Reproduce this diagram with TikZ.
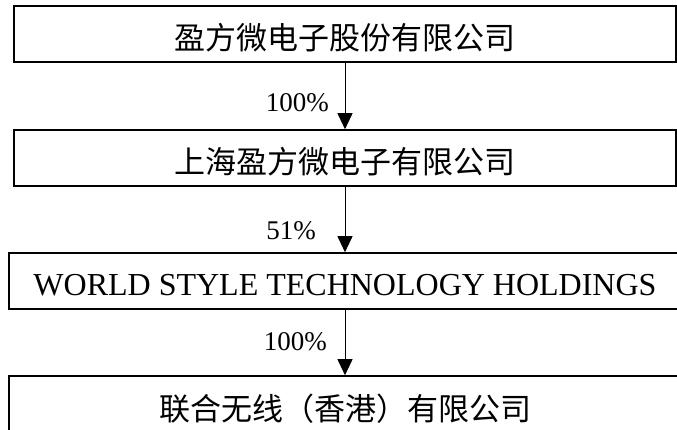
\documentclass[tikz,border=0pt]{standalone}
\usepackage{fontspec}
\setmainfont{Liberation Serif}
\newfontfamily\cjk{Noto Sans CJK SC}
\usetikzlibrary{arrows.meta}
\tikzset{firm/.style={draw=black,line width=1.6pt,minimum height=56pt,inner sep=0pt,text height=32pt,text depth=0pt,font=\fontsize{31}{36}\selectfont}}
\tikzset{share/.style={font=\fontsize{27}{32}\selectfont,anchor=east,inner sep=0pt}}
\tikzset{own/.style={line width=0.9pt,-{Triangle[width=15pt,length=16pt]}}}

\begin{document}
\begin{tikzpicture}[x=1pt,y=-1pt]
\useasboundingbox (0,0) rectangle (677,430);
\clip (0,0) rectangle (677,430);
\node[firm,minimum width=662pt] (F1) at (345,34) {\cjk 盈方微电子股份有限公司};
\node[firm,minimum width=662pt] (F2) at (345,158) {\cjk 上海盈方微电子有限公司};
\node[firm,minimum width=672pt,text height=29pt,font=\fontsize{32}{36}\selectfont] (F3) at (345,281) {WORLD STYLE TECHNOLOGY HOLDINGS};
\node[firm,minimum width=672pt] (F4) at (345,404) {\cjk 联合无线（香港）有限公司};
\foreach \i/\j/\p/\x/\y in {1/2/100\%/329/103,2/3/51\%/316/231,3/4/100\%/327/342} {
	\draw[own] (F\i.south) -- (F\j.north);
	\node[share] (s\i) at (\x,\y) {\p};
}
\end{tikzpicture}
\end{document}
